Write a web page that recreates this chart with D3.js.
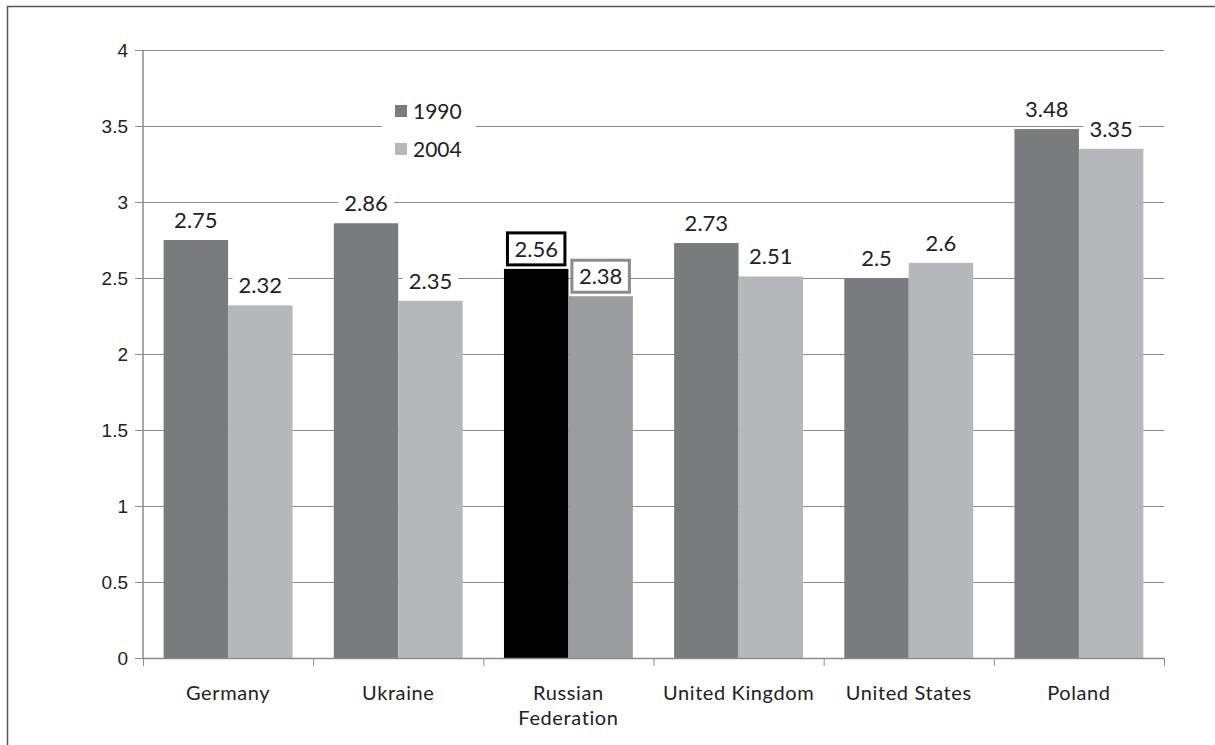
<!DOCTYPE html>
<html lang="en">
<head>
<meta charset="UTF-8">
<title>1990 vs 2004</title>
<script src="https://d3js.org/d3.v7.min.js"></script>
<style>
  body { margin: 0; background: #fff; }
  svg { display: block; font-family: "Lato", "Open Sans", sans-serif; }
</style>
</head>
<body>
<svg id="chart" width="1215" height="745"></svg>
<script>
// data
const countries = ["Germany", "Ukraine", "Russian Federation", "United Kingdom", "United States", "Poland"];
const years = ["1990", "2004"];
const v1990 = [2.75, 2.86, 2.56, 2.73, 2.5, 3.48];
const v2004 = [2.32, 2.35, 2.38, 2.51, 2.6, 3.35];
const yTicks = [0, 0.5, 1, 1.5, 2, 2.5, 3, 3.5, 4];
const highlight = "Russian Federation";

const colors = { "1990": "#7a7b7f", "2004": "#b6b7ba" };
const hiColors = { "1990": "#000000", "2004": "#9b9da1" };
const hiBorder = { "1990": "#000000", "2004": "#8a8b8f" };

const svg = d3.select("#chart");
const m = { left: 143, right: 1164, top: 50, bottom: 658 };

// frame
svg.append("path")
   .attr("d", "M7.5,745 L7.5,6.5 L1215,6.5")
   .attr("fill", "none").attr("stroke", "#555").attr("stroke-width", 1.5);

const x = d3.scaleBand().domain(countries).range([m.left, m.right]);
const xi = d3.scaleBand().domain(years).range([0, x.bandwidth()]).paddingOuter(0.32);
const y = d3.scaleLinear().domain([0, 4]).range([m.bottom, m.top]);

// grid
svg.append("g").selectAll("line").data(yTicks.slice(1)).join("line")
   .attr("x1", m.left).attr("x2", m.right)
   .attr("y1", d => y(d) + 0.5).attr("y2", d => y(d) + 0.5)
   .attr("stroke", "#8c8c8c").attr("stroke-width", 1);

// y axis
const ya = svg.append("g").attr("transform", `translate(${m.left},0)`)
   .call(d3.axisLeft(y).tickValues(yTicks).tickSize(8).tickPadding(6).tickFormat(d => d));
ya.selectAll("path, line").attr("stroke", "#8c8c8c");
ya.select(".domain").attr("d", `M0,${m.top}V${m.bottom}`).attr("stroke-width", 1.5);
ya.selectAll(".tick text").attr("dx", "-1").attr("font-size", 19).attr("fill", "#222");

// bars
const rows = countries.map((c, i) => ({ c, vals: [{ yr: "1990", v: v1990[i] }, { yr: "2004", v: v2004[i] }] }));
const groups = svg.append("g").selectAll("g").data(rows).join("g")
   .attr("transform", d => `translate(${x(d.c)},0)`);

groups.selectAll("rect").data(d => d.vals.map(o => ({ ...o, c: d.c }))).join("rect")
   .attr("x", d => xi(d.yr)).attr("width", xi.bandwidth())
   .attr("y", d => y(d.v)).attr("height", d => y(0) - y(d.v))
   .attr("fill", d => d.c === highlight ? hiColors[d.yr] : colors[d.yr]);

// x axis
const xa = svg.append("g").attr("transform", `translate(0,${m.bottom})`);
xa.append("line").attr("x1", m.left).attr("x2", m.right).attr("y1", 0.5).attr("y2", 0.5)
  .attr("stroke", "#8c8c8c").attr("stroke-width", 1.5);
xa.selectAll(".tk").data(countries.concat([null])).join("line")
  .attr("x1", (d, i) => m.left + i * x.bandwidth() + 0.5).attr("x2", (d, i) => m.left + i * x.bandwidth() + 0.5)
  .attr("y1", 0).attr("y2", 8).attr("stroke", "#8c8c8c");
xa.selectAll("text").data(countries).join("text")
  .attr("text-anchor", "middle").attr("font-size", 20).attr("letter-spacing", 0.6).attr("fill", "#222")
  .attr("transform", d => `translate(${x(d) + x.bandwidth() / 2},42)`)
  .each(function (d) {
    const parts = d === highlight ? ["Russian", "Federation"] : [d];
    d3.select(this).selectAll("tspan").data(parts).join("tspan")
      .attr("x", 0).attr("dy", (p, i) => i ? 25 : 0).text(p => p);
  });

// value labels with white boxes
groups.each(function (row) {
  const g = d3.select(this);
  row.vals.forEach(o => {
    const cx = xi(o.yr) + xi.bandwidth() / 2;
    const cy = y(o.v) - 20;
    const hi = row.c === highlight;
    const lab = g.append("g").attr("transform", `translate(${cx},${cy})`);
    const box = lab.append("rect").attr("fill", "#fff");
    const t = lab.append("text").attr("text-anchor", "middle").attr("dy", "0.36em")
       .attr("font-size", 22).attr("fill", "#222").text(o.v);
    const w = t.node().getBBox().width + (hi ? 14 : 12);
    box.attr("x", -w / 2).attr("width", w).attr("y", -16).attr("height", 32)
       .attr("stroke", hi ? hiBorder[o.yr] : "none").attr("stroke-width", 3);
  });
});

// legend
const lg = svg.append("g").attr("transform", "translate(382,98)");
lg.append("rect").attr("width", 94).attr("height", 68).attr("fill", "#fff");
lg.selectAll("g").data(years).join("g")
  .attr("transform", (d, i) => `translate(13,${13 + i * 38})`)
  .each(function (d) {
    const e = d3.select(this);
    e.append("rect").attr("x", 0).attr("y", -6).attr("width", 12).attr("height", 12).attr("fill", colors[d]);
    e.append("text").attr("x", 18).attr("dy", "0.36em").attr("font-size", 21).attr("fill", "#222").text(d);
  });
</script>
</body>
</html>
